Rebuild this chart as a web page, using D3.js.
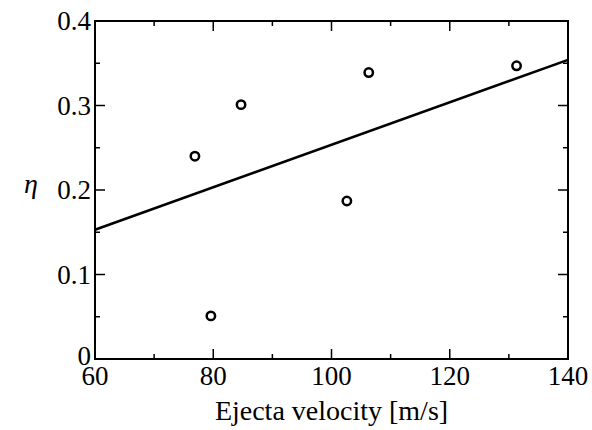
<!DOCTYPE html>
<html>
<head>
<meta charset="utf-8">
<script src="https://cdn.jsdelivr.net/npm/d3@7"></script>
<style>
  body { margin: 0; background: #fff; }
  text { font-family: "Liberation Serif", "Times New Roman", serif; fill: #000; }
</style>
</head>
<body>
<div id="chart"></div>
<script>
// measured points
var velocity = [76.9, 84.7, 79.6, 102.6, 106.3, 131.3];
var eta      = [0.240, 0.301, 0.051, 0.187, 0.339, 0.347];

// fit line end points
var fitVelocity = [60, 140];
var fitEta      = [0.153, 0.354];

var xTicks = [60, 80, 100, 120, 140];
var yTicks = [0, 0.1, 0.2, 0.3, 0.4];
var xMinor = [70, 90, 110, 130];
var yMinor = [0.05, 0.15, 0.25, 0.35];

var width = 592, height = 430;
var mLeft = 95, mRight = 568, mTop = 21, mBottom = 359;

var svg = d3.select("#chart").append("svg")
  .attr("width", width)
  .attr("height", height);

var x = d3.scaleLinear().domain([60, 140]).range([mLeft, mRight]);
var y = d3.scaleLinear().domain([0, 0.4]).range([mBottom, mTop]);

var fmt = function(d) { return d === 0 ? "0" : d3.format(".1f")(d); };

/* frame */
svg.append("rect")
  .attr("x", mLeft).attr("y", mTop)
  .attr("width", mRight - mLeft).attr("height", mBottom - mTop)
  .attr("fill", "none").attr("stroke", "#000").attr("stroke-width", 2);

/* ticks, pointing inward on all four sides */
var ticks = svg.append("g").attr("stroke", "#000").attr("stroke-width", 1.5);

function xTick(v, len) {
  ticks.append("line").attr("x1", x(v)).attr("x2", x(v)).attr("y1", mBottom).attr("y2", mBottom - len);
  ticks.append("line").attr("x1", x(v)).attr("x2", x(v)).attr("y1", mTop).attr("y2", mTop + len);
}
function yTick(v, len) {
  ticks.append("line").attr("y1", y(v)).attr("y2", y(v)).attr("x1", mLeft).attr("x2", mLeft + len);
  ticks.append("line").attr("y1", y(v)).attr("y2", y(v)).attr("x1", mRight).attr("x2", mRight - len);
}
xTicks.forEach(d => xTick(d, 10));
xMinor.forEach(d => xTick(d, 5));
yTicks.forEach(d => yTick(d, 10));
yMinor.forEach(d => yTick(d, 5));

/* tick labels */
svg.append("g").selectAll("text")
  .data(xTicks).enter()
  .append("text")
  .attr("x", d => x(d))
  .attr("y", mBottom + 26)
  .attr("text-anchor", "middle")
  .style("font-size", "27px")
  .text(d => d);

// the "0" sits a little higher so it clears the "60" below it
svg.append("g").selectAll("text")
  .data(yTicks).enter()
  .append("text")
  .attr("x", mLeft - 4)
  .attr("y", d => y(d) + (d === 0 ? 6 : 9))
  .attr("text-anchor", "end")
  .style("font-size", "27px")
  .text(fmt);

/* axis titles */
svg.append("text")
  .attr("x", (mLeft + mRight) / 2)
  .attr("y", 420)
  .attr("text-anchor", "middle")
  .style("font-size", "28px")
  .text("Ejecta velocity [m/s]");

svg.append("text")
  .attr("x", 31)
  .attr("y", 193)
  .attr("text-anchor", "middle")
  .style("font-size", "28px")
  .style("font-style", "italic")
  .text("η");

/* fit line */
var line = d3.line()
  .x(d => x(d[0]))
  .y(d => y(d[1]));

svg.append("path")
  .attr("d", line(d3.zip(fitVelocity, fitEta)))
  .attr("fill", "none")
  .attr("stroke", "#000")
  .attr("stroke-width", 2.5);

/* points */
svg.append("g").selectAll("circle")
  .data(d3.zip(velocity, eta)).enter()
  .append("circle")
  .attr("cx", d => x(d[0]))
  .attr("cy", d => y(d[1]))
  .attr("r", 4.2)
  .attr("fill", "none")
  .attr("stroke", "#000")
  .attr("stroke-width", 2.5);
</script>
</body>
</html>
